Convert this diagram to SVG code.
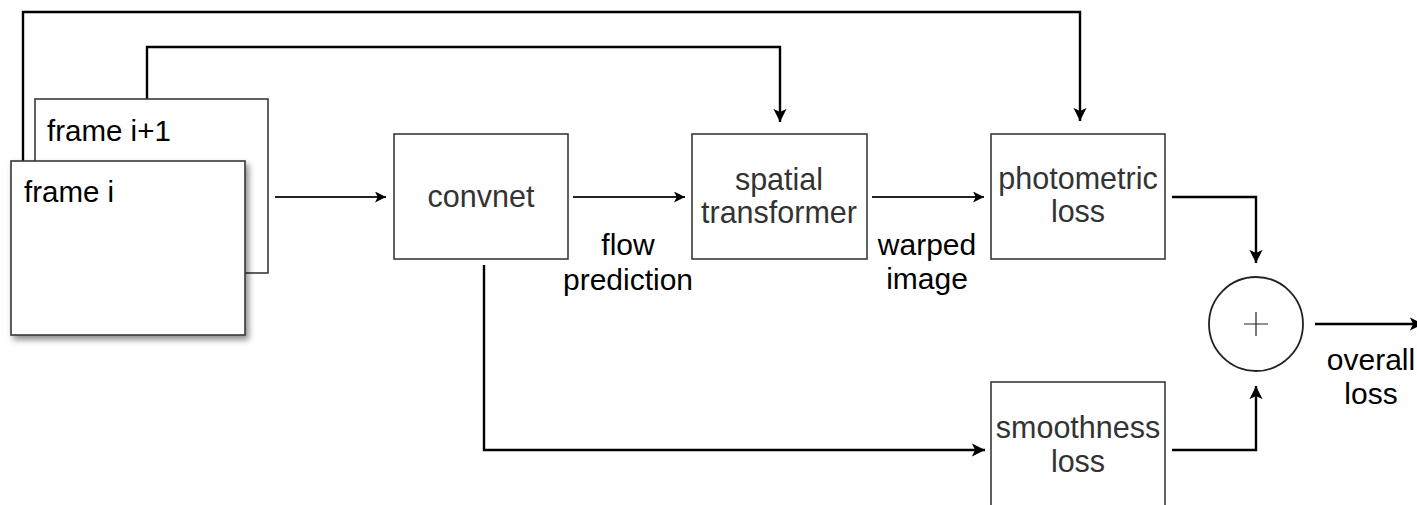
<svg xmlns="http://www.w3.org/2000/svg" width="1417" height="505" viewBox="0 0 1417 505">
<style>
.box{fill:#fff;stroke:#3a3a3a;stroke-width:1.6}
.ntext{font-family:"Liberation Sans",Arial,sans-serif;font-size:30.5px;fill:#333;text-anchor:middle}
.ftext{font-family:"Liberation Sans",Arial,sans-serif;font-size:29.5px;fill:#000}
.lbl{font-family:"Liberation Sans",Arial,sans-serif;font-size:30px;fill:#000;text-anchor:middle}
.wire{fill:none;stroke:#000;stroke-width:2.4}
.thin{fill:none;stroke:#222;stroke-width:2}
</style>
<defs>
<marker id="ah" viewBox="0 0 10 10" refX="10" refY="5" markerWidth="5.5" markerHeight="5.5" markerUnits="strokeWidth" orient="auto">
<path d="M0,0 L10,5 L0,10 L2.5,5 z" fill="#000"/>
</marker>
<filter id="sh" x="-10%" y="-10%" width="130%" height="130%">
<feDropShadow dx="3" dy="4" stdDeviation="3" flood-color="#000" flood-opacity="0.45"/>
</filter>
</defs>
<rect width="1417" height="505" fill="#fff"/>
<g id="connectors">
<path class="wire" d="M23,161 V12 H1080 V121" marker-end="url(#ah)"/>
<path class="wire" d="M147,99 V47 H780 V122" marker-end="url(#ah)"/>
<path class="thin" d="M275,197 H386" marker-end="url(#ah)"/>
<path class="thin" d="M573,197 H685" marker-end="url(#ah)"/>
<path class="thin" d="M872,197 H984" marker-end="url(#ah)"/>
<path class="wire" d="M1172,197 H1256 V263" marker-end="url(#ah)"/>
<path class="wire" d="M484,265 V450 H985" marker-end="url(#ah)"/>
<path class="wire" d="M1172,450 H1256 V386" marker-end="url(#ah)"/>
<path class="wire" d="M1315,324 H1423" marker-end="url(#ah)"/>
</g>
<g id="frame-i1">
<rect class="box" x="35" y="99" width="233" height="174"/>
<text class="ftext" x="47" y="141">frame i+1</text>
</g>
<g id="frame-i">
<rect class="box" x="11" y="161" width="234" height="174" filter="url(#sh)"/>
<text class="ftext" x="24" y="202">frame i</text>
</g>
<g id="convnet">
<rect class="box" x="394" y="134" width="174" height="125"/>
<text class="ntext" x="481" y="207">convnet</text>
</g>
<g id="spatial-transformer">
<rect class="box" x="692" y="134" width="175" height="125"/>
<text class="ntext" x="779" y="190">spatial</text>
<text class="ntext" x="779" y="223">transformer</text>
</g>
<g id="photometric-loss">
<rect class="box" x="991" y="134" width="174" height="125"/>
<text class="ntext" x="1078" y="189">photometric</text>
<text class="ntext" x="1078" y="222">loss</text>
</g>
<g id="smoothness-loss">
<rect class="box" x="991" y="382" width="174" height="140"/>
<text class="ntext" x="1078" y="438">smoothness</text>
<text class="ntext" x="1078" y="472">loss</text>
</g>
<g id="sum">
<circle cx="1256" cy="324" r="47" fill="#fff" stroke="#222" stroke-width="1.8"/>
<path d="M1244,324 H1268 M1256,312 V336" stroke="#222" stroke-width="1.2" fill="none"/>
</g>
<g id="labels">
<text class="lbl" x="628" y="255">flow</text>
<text class="lbl" x="628" y="290">prediction</text>
<text class="lbl" x="927" y="255">warped</text>
<text class="lbl" x="927" y="289">image</text>
<text class="lbl" x="1371" y="370">overall</text>
<text class="lbl" x="1371" y="404">loss</text>
</g>
</svg>
